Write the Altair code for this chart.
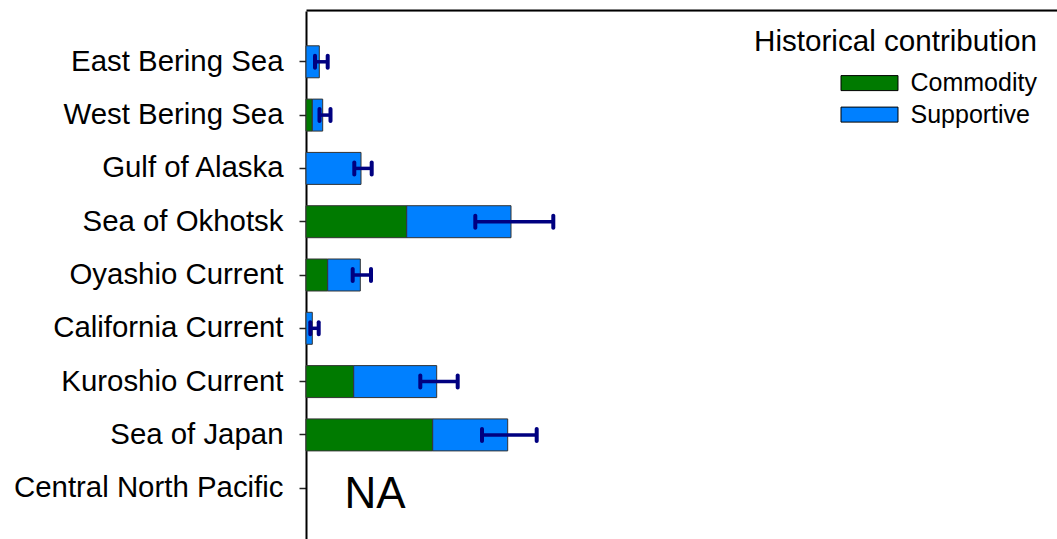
import altair as alt
import pandas as pd

# Regions, top to bottom
regions = [
    "East Bering Sea",
    "West Bering Sea",
    "Gulf of Alaska",
    "Sea of Okhotsk",
    "Oyashio Current",
    "California Current",
    "Kuroshio Current",
    "Sea of Japan",
    "Central North Pacific",
]
# Historical contribution by type (None = no estimate)
commodity = [0.0, 0.63, 0.0, 10.07, 2.17, 0.0, 4.77, 12.67, None]
supportive = [1.33, 1.04, 5.5, 10.43, 3.26, 0.63, 8.3, 7.5, None]
# Uncertainty interval of the total
err_low = [0.9, 1.35, 4.83, 16.93, 4.67, 0.43, 11.43, 17.6, None]
err_high = [2.17, 2.45, 6.57, 24.73, 6.5, 1.27, 15.17, 23.07, None]

types = ["Commodity", "Supportive"]
colors = ["#007A00", "#0080FF"]

rows = []
for r, c, s in zip(regions, commodity, supportive):
    for k, (t, v) in enumerate(zip(types, (c, s))):
        if v:
            rows.append({"region": r, "type": t, "value": v, "order": k})
bars_df = pd.DataFrame(rows)

err_df = pd.DataFrame(
    [{"region": r, "lo": lo, "hi": hi}
     for r, lo, hi in zip(regions, err_low, err_high) if lo is not None]
)
na_df = pd.DataFrame(
    [{"region": r, "label": "NA"} for r, c in zip(regions, commodity) if c is None]
)

FONT = "Liberation Sans"
NAVY = "#000080"

y_enc = alt.Y(
    "region:N",
    sort=regions,
    scale=alt.Scale(domain=regions, paddingInner=0.4, paddingOuter=0.653),
    axis=alt.Axis(
        title=None,
        labelFontSize=29.4,
        labelFont=FONT,
        labelColor="black",
        labelLimit=500,
        labelPadding=16,
        tickSize=7,
        tickWidth=1.5,
        tickColor="#222222",
        domainColor="black",
        domainWidth=2,
        grid=False,
    ),
)
x_scale = alt.Scale(domain=[0, 75.1], nice=False, zero=True)
# top border only: a label-less axis along the upper edge
x_axis = alt.Axis(
    orient="top", title=None, labels=False, ticks=False, grid=False,
    domainColor="black", domainWidth=2, offset=1,
)

# wide legend swatch: 4 x 1.05 units, shifted right so it ends close to its label
SWATCH = "M-0.912,-0.526L3.088,-0.526L3.088,0.526L-0.912,0.526Z"

bars = alt.Chart(bars_df).mark_bar(stroke="#333333", strokeWidth=1, opacity=1).encode(
    x=alt.X("value:Q", stack="zero", scale=x_scale, axis=x_axis),
    y=y_enc,
    color=alt.Color(
        "type:N",
        scale=alt.Scale(domain=types, range=colors),
        legend=alt.Legend(
            title="Historical contribution",
            orient="none",
            legendX=448,
            legendY=17,
            titleAnchor="end",
            titleLimit=600,
            titleFont=FONT,
            titleFontSize=29.6,
            titleFontWeight="normal",
            titleColor="black",
            titlePadding=10.5,
            labelFont=FONT,
            labelFontSize=25,
            labelColor="black",
            labelLimit=400,
            labelOffset=41.5,
            symbolType=SWATCH,
            symbolSize=812,
            symbolStrokeColor="black",
            symbolStrokeWidth=1,
            symbolOpacity=1,
            rowPadding=3.5,
            padding=0,
        ),
    ),
    order=alt.Order("order:Q"),
)

err_rule = alt.Chart(err_df).mark_rule(color=NAVY, strokeWidth=3.5).encode(
    x=alt.X("lo:Q", scale=x_scale, axis=x_axis),
    x2="hi:Q",
    y=y_enc,
)
cap_lo = alt.Chart(err_df).mark_tick(
    color=NAVY, size=16, thickness=4, cornerRadius=2, opacity=1
).encode(x=alt.X("lo:Q", scale=x_scale, axis=x_axis), y=y_enc)
cap_hi = alt.Chart(err_df).mark_tick(
    color=NAVY, size=16, thickness=4, cornerRadius=2, opacity=1
).encode(x=alt.X("hi:Q", scale=x_scale, axis=x_axis), y=y_enc)

na_text = alt.Chart(na_df).mark_text(
    font=FONT, fontSize=44, color="black", align="center", baseline="middle", dy=7
).encode(x=alt.value(69), y=y_enc, text="label:N")

chart = (
    alt.layer(bars, err_rule, cap_lo, cap_hi, na_text)
    .properties(
        width=751,
        height=528,
        autosize=alt.AutoSizeParams(type="none"),
        padding={"left": 306, "top": 11, "right": 0, "bottom": 0},
    )
    .configure_view(stroke=None)
    .configure(background="white")
)

chart.save("out.html", embed_options={"renderer": "svg", "actions": False})
